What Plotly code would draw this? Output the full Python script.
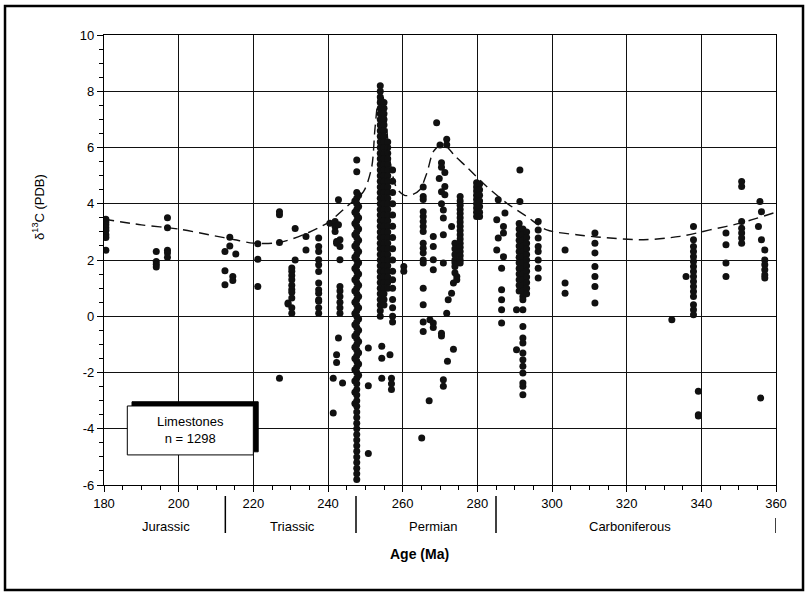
import plotly.graph_objects as go

# ---------------- data ----------------
# Jurassic samples: column ages and their d13C values
jur_ages = [180.5, 194.0, 197.0, 212.4, 213.7, 214.5, 215.3]
jur_vals = [
    [3.45, 3.35, 3.25, 3.15, 3.05, 2.9, 2.8, 2.35],
    [2.3, 1.95, 1.85, 1.75],
    [3.5, 3.15, 2.35, 2.25, 2.1],
    [2.3, 1.62, 1.12],
    [2.81, 2.5],
    [1.41, 1.27],
    [2.21],
]

# Triassic samples
tri_ages = [221.2, 227.0, 229.3, 230.3, 231.2, 234.1, 237.5, 240.5, 241.4,
            241.9, 242.3, 242.8, 243.2, 243.9, 247.2, 247.7, 248.2]
tri_vals = [
    [2.58, 2.03, 1.06],
    [3.72, 3.61, 2.62, -2.2],
    [0.47, 0.44],
    [1.72, 1.6, 1.45, 1.3, 1.1, 0.95, 0.85, 0.65, 0.3, 0.11],
    [3.12, 2.0],
    [2.84, 2.36],
    [2.78, 2.48, 2.3, 2.01, 1.83, 1.59, 1.18, 0.94, 0.82, 0.59, 0.53, 0.3, 0.11],
    [3.31],
    [-2.2, -3.44],
    [3.37, 3.19, 3.01],
    [2.66, 2.6, -1.37, -1.64],
    [4.14, 3.25, -0.77],
    [2.72, 2.48, 2.01, 1.06, 0.9, 0.7, 0.5, 0.3, 0.11],
    [-2.37],
    [4.1, 3.7, 3.3, 2.9, 2.5, 2.1, 1.7, 1.3, 0.9, 0.5, 0.1, -0.3, -0.7, -1.1,
     -1.5, -1.9, -2.3, -2.7, -3.1],
    [5.56, 5.14, 4.4, 4.2, 4.0, 3.8, 3.6, 3.4, 3.2, 3.0, 2.8, 2.6, 2.4, 2.2, 2.0,
     1.8, 1.6, 1.4, 1.2, 1.0, 0.8, 0.6, 0.4, 0.2, 0.0, -0.2, -0.4, -0.6, -0.8,
     -1.0, -1.2, -1.4, -1.6, -1.8, -2.0, -2.2, -2.4, -2.6, -2.8, -3.0, -3.2,
     -3.4, -3.6, -3.8, -4.0, -4.2, -4.4, -4.6, -4.8, -5.0, -5.2, -5.4, -5.6, -5.8],
    [4.3, 3.9, 3.5, 3.1, 2.7, 2.3, 1.9, 1.5, 1.1, 0.7, 0.3, -0.1, -0.5, -0.9,
     -1.3, -1.7, -2.1],
]

# Permian samples
perm_ages = [250.8, 254.0, 254.4, 255.0, 256.0, 256.6, 257.0, 257.3, 260.3,
             265.1, 265.5, 267.1, 267.3, 268.2, 269.1, 269.8, 270.0, 270.4,
             270.9, 271.3, 271.8, 272.0, 272.2, 273.1, 273.6, 274.0, 274.5,
             275.4, 279.8, 280.6]
perm_vals = [
    [-1.13, -2.47, -4.88],
    [8.2, 8.0, 7.8, 7.6, 7.4, 7.2, 7.0, 6.8, 6.6, 6.4, 6.2, 6.0, 5.8, 5.6, 5.4,
     5.2, 5.0, 4.8, 4.6, 4.4, 4.2, 4.0, 3.8, 3.6, 3.4, 3.2, 3.0, 2.8, 2.6, 2.4,
     2.2, 2.0, 1.8, 1.6, 1.4, 1.2, 1.0, 0.8, 0.6, 0.4, 0.2, 0.0],
    [-1.07, -1.49, -2.2],
    [7.6, 7.4, 7.2, 7.0, 6.8, 6.6, 6.4, 6.2, 6.0, 5.8, 5.6, 5.4, 5.2, 5.0, 4.8,
     4.6, 4.4, 4.2, 4.0, 3.8, 3.6, 3.4, 3.2, 3.0, 2.8, 2.6, 2.4, 2.2, 2.0, 1.8,
     1.6, 1.4, 1.2, 1.0, 0.8, 0.6, 0.4],
    [6.2, 6.0, 5.8, 5.6, 5.4, 5.2, 5.0, 4.8, 4.6, 4.4, 4.2, 4.0, 3.8, 3.6, 3.4,
     3.2, 3.0, 2.8, 2.6, 2.4, 2.2, 2.0, 1.8, 1.6, 1.4, 1.2, 1.0],
    [-1.37],
    [-2.2, -2.4, -2.6],
    [5.2, 4.8, 4.4, 4.0, 3.6, 3.2, 2.8, 2.4, 2.0, 1.6, 1.3, 1.0, 0.6, 0.3, 0.0, -0.2],
    [1.77, 1.6],
    [-4.33],
    [4.6, 4.26, 4.15, 3.72, 3.55, 3.37, 3.19, 3.01, 2.6, 2.42, 2.25, 2.0, 1.89,
     1.0, 0.41, -0.2, -0.54],
    [-3.0],
    [-0.12],
    [2.84, 2.48, 2.01, 1.65, -0.24, -0.4],
    [6.88],
    [4.9],
    [6.09],
    [5.46, 5.3, 4.43, 4.0, -0.6, -0.7],
    [3.78, 3.49, 2.9, 1.89, -2.26, -2.49],
    [5.11, 4.61, 4.32],
    [6.29, 6.1, 0.11],
    [-1.6],
    [0.59],
    [3.19, 0.82],
    [1.18, -1.17],
    [2.6, 2.4, 2.2, 2.0, 1.9, 1.77, 1.55],
    [1.41, 1.3],
    [4.26, 4.1, 3.95, 3.8, 3.65, 3.5, 3.35, 3.2, 3.05, 2.9, 2.75, 2.6, 2.45,
     2.3, 2.15, 2.0, 1.89],
    [4.75, 4.6, 4.45, 4.3, 4.15, 4.0, 3.85, 3.7, 3.55],
    [4.7, 4.5, 4.3, 4.1, 3.9, 3.7, 3.55],
]

# Carboniferous samples
carb_ages = [285.2, 285.6, 286.5, 287.0, 287.4, 290.5, 291.2, 291.4, 292.2,
             293.2, 296.3, 303.5, 311.5, 332.1, 335.9, 337.9, 339.2, 346.6,
             350.8, 355.3, 355.7, 355.9, 356.1, 357.0]
carb_vals = [
    [3.43, 2.36],
    [4.14, 2.78],
    [1.71, 0.94, 0.59, 0.23, -0.24],
    [3.19, 2.96, 2.12],
    [3.67],
    [0.23, -1.19],
    [3.3, 3.1, 2.9, 2.7, 2.5, 2.3, 2.1, 1.9, 1.7, 1.5, 1.3, 1.1, 0.9],
    [5.2, 4.08],
    [3.1, 2.9, 2.7, 2.5, 2.3, 2.1, 1.9, 1.7, 1.5, 1.3, 1.1, 0.9, 0.7, 0.59,
     0.23, -0.36, -0.77, -0.95, -1.31, -1.55, -1.78, -2.02, -2.37, -2.49, -2.79],
    [3.0, 2.8, 2.6, 2.4, 2.2, 2.0, 1.8, 1.6, 1.4, 1.2, 1.0, 0.8],
    [3.37, 3.07, 2.78, 2.48, 2.3, 2.0, 1.71, 1.36],
    [2.36, 1.18, 0.82],
    [2.96, 2.6, 2.25, 1.77, 1.41, 1.06, 0.47],
    [-0.12],
    [1.41],
    [3.19, 2.72, 2.48, 2.3, 2.12, 1.95, 1.77, 1.59, 1.41, 1.24, 1.06, 0.88,
     0.7, 0.41, 0.23, 0.05],
    [-2.67, -3.5, -3.55],
    [2.96, 2.54, 1.89, 1.41],
    [4.79, 4.61, 3.37, 3.13, 2.96, 2.78, 2.6],
    [3.19],
    [4.08],
    [-2.91],
    [3.72, 2.72],
    [2.36, 2.0, 1.83, 1.65, 1.47, 1.36],
]

# Dashed trend curve
curve_age = [180, 190, 200, 210, 215, 220, 227, 234, 240, 245, 249.5, 251.7,
             252.6, 253.7, 254.4, 255.4, 256.5, 258.4, 260.5, 262.5, 264.6,
             266.5, 268.2, 270.2, 271.8, 274.0, 277.2, 282.5, 287.9, 293.2,
             298.6, 306.6, 312.0, 324.5, 334.3, 342.3, 350.4, 360]
curve_val = [3.45, 3.25, 3.1, 2.85, 2.72, 2.6, 2.62, 2.93, 3.33, 3.9, 4.43, 5.3,
             6.7, 7.85, 7.95, 7.2, 5.6, 4.55, 4.3, 4.32, 4.5, 5.1, 5.85, 6.08,
             6.02, 5.7, 5.3, 4.61, 4.02, 3.55, 3.07, 2.9, 2.82, 2.72, 2.84,
             3.07, 3.31, 3.7]

x_ticks = [180, 200, 220, 240, 260, 280, 300, 320, 340, 360]
x_labels = ["180", "200", "220", "240", "260", "280", "300", "320", "340", "360"]
y_ticks = [10, 8, 6, 4, 2, 0, -2, -4, -6]
y_labels = ["10", "8", "6", "4", "2", "0", "-2", "-4", "-6"]

periods = ["Jurassic", "Triassic", "Permian", "Carboniferous"]
period_pos = [196.5, 230.6, 268.0, 320.9]
period_bounds = [212.5, 247.5, 285.0]

# ---------------- build figure ----------------
xs, ys = [], []
for ages, vals in [(jur_ages, jur_vals), (tri_ages, tri_vals),
                   (perm_ages, perm_vals), (carb_ages, carb_vals)]:
    for a, col in zip(ages, vals):
        for v in col:
            xs.append(a)
            ys.append(v)

FONT = "Liberation Sans, Arial, Helvetica, sans-serif"

fig = go.Figure()
fig.add_trace(go.Scatter(
    x=xs, y=ys, mode="markers",
    marker=dict(size=7, color="#111111", line=dict(width=0)),
    hoverinfo="skip", showlegend=False))
fig.add_trace(go.Scatter(
    x=curve_age, y=curve_val, mode="lines",
    line=dict(color="#111111", width=1.4, dash="10px,6px", shape="spline",
              smoothing=0.8),
    hoverinfo="skip", showlegend=False))

axis_common = dict(showline=True, linecolor="black", linewidth=1.3,
                   mirror=True, showgrid=True, gridcolor="#111111",
                   gridwidth=1.2, zeroline=False, ticks="outside",
                   tickcolor="black", ticklen=6, tickwidth=1.2,
                   tickfont=dict(family=FONT, size=13, color="black"))

fig.update_xaxes(range=[180, 360], tickvals=x_ticks, ticktext=x_labels,
                 minor=dict(dtick=5, ticks="outside", ticklen=4,
                            tickcolor="black", showgrid=False),
                 **axis_common)
fig.update_yaxes(range=[-6, 10], tickvals=y_ticks, ticktext=y_labels,
                 minor=dict(dtick=0.5, ticks="outside", ticklen=4,
                            tickcolor="black", showgrid=False),
                 **axis_common)

shapes = []
# outer frame
shapes.append(dict(type="rect", xref="paper", yref="paper",
                   x0=-0.1473, x1=1.0402, y0=-0.2333, y1=1.0644,
                   line=dict(color="black", width=2.5)))
# period separators
for b in period_bounds:
    shapes.append(dict(type="line", xref="x", yref="paper", x0=b, x1=b,
                       y0=-0.0244, y1=-0.1067,
                       line=dict(color="black", width=1.5)))
shapes.append(dict(type="line", xref="x", yref="paper", x0=360, x1=360,
                   y0=-0.0733, y1=-0.1067, line=dict(color="black", width=1.5)))
# legend box with shadow
shapes.append(dict(type="rect", xref="x", yref="y", x0=187.5, x1=221.3,
                   y0=-4.82, y1=-3.04, fillcolor="black",
                   line=dict(color="black", width=1)))
shapes.append(dict(type="rect", xref="x", yref="y", x0=186.24, x1=220.0,
                   y0=-4.93, y1=-3.19, fillcolor="white",
                   line=dict(color="black", width=1)))

annotations = []
annotations.append(dict(x=203.1, y=-4.05, xref="x", yref="y",
                        text="Limestones<br>n = 1298", showarrow=False,
                        font=dict(family=FONT, size=13, color="black"),
                        align="center"))
for name, pos in zip(periods, period_pos):
    annotations.append(dict(x=pos, y=-0.0933, xref="x", yref="paper",
                            text=name, showarrow=False, yanchor="middle",
                            font=dict(family=FONT, size=13, color="black")))
annotations.append(dict(x=0.470, y=-0.153, xref="paper", yref="paper",
                        text="<b>Age (Ma)</b>", showarrow=False,
                        yanchor="middle",
                        font=dict(family=FONT, size=14, color="black")))
annotations.append(dict(x=-0.0982, y=0.618, xref="paper", yref="paper",
                        text="δ<sup>13</sup>C (PDB)", showarrow=False,
                        textangle=-90, xanchor="center", yanchor="middle",
                        font=dict(family=FONT, size=13, color="black")))

fig.update_layout(width=809, height=598,
                  margin=dict(l=104, r=33, t=35, b=113),
                  paper_bgcolor="white", plot_bgcolor="white",
                  shapes=shapes, annotations=annotations, showlegend=False)

fig.write_html("out.html")
